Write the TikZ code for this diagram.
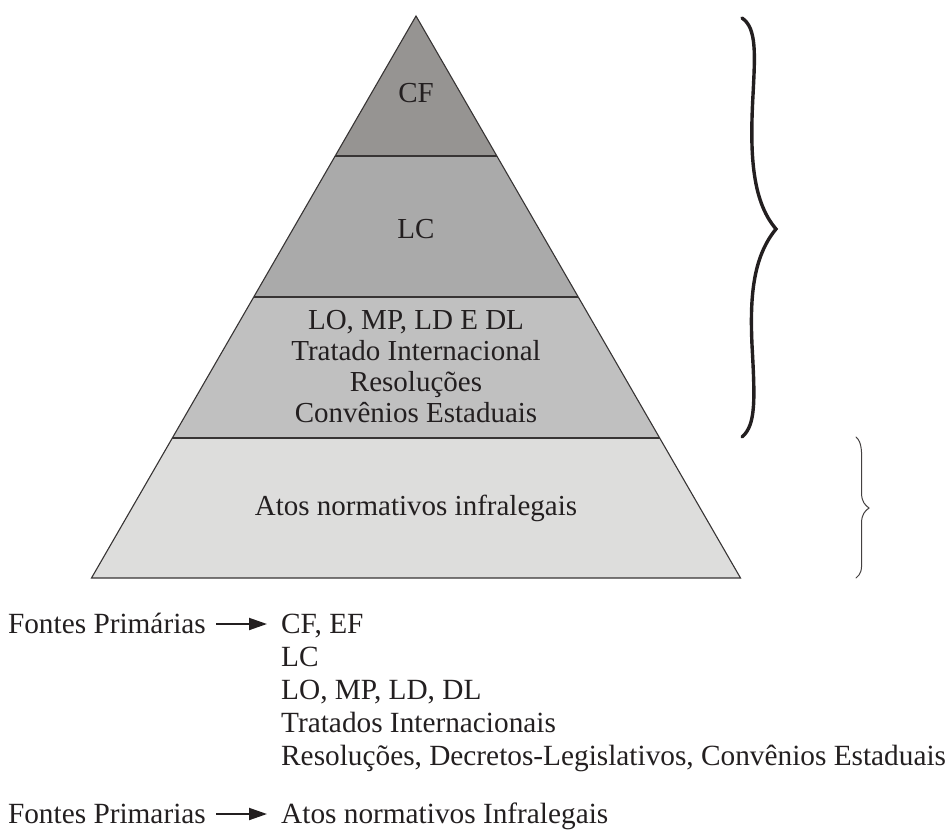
\documentclass[tikz,border=0pt]{standalone}
\usepackage{fontspec}
\setmainfont{Liberation Serif}
\usetikzlibrary{arrows.meta}
\definecolor{lay1}{RGB}{150,148,146}
\definecolor{lay2}{RGB}{170,170,170}
\definecolor{lay3}{RGB}{192,192,192}
\definecolor{lay4}{RGB}{221,221,220}
\definecolor{ink}{RGB}{35,31,32}
\definecolor{edge}{RGB}{55,52,52}
\tikzset{
  lbl/.style={anchor=base, inner sep=0pt, text=ink, font=\fontsize{29}{33}\selectfont},
  lblw/.style={anchor=base west, inner sep=0pt, text=ink, font=\fontsize{29.3}{33}\selectfont},
  lble/.style={anchor=base east, inner sep=0pt, text=ink, font=\fontsize{29.3}{33}\selectfont},
  divider/.style={draw=edge, line width=1.8pt},
  outline/.style={draw=edge, line width=1.1pt, line join=miter},
  pointer/.style={draw=ink, line width=2pt, -{Triangle[length=18pt,width=12pt]}},
  bigbrace/.style={draw=ink, line width=3.4pt, line cap=round},
  smallbrace/.style={draw=ink!85, line width=1pt, line cap=round}
}
\begin{document}
\begin{tikzpicture}[x=1pt,y=-1pt]
\useasboundingbox (0,0) rectangle (949,830);
% pyramid corners
\coordinate (apex) at (416,16);
\coordinate (l1) at (335.2,156);
\coordinate (r1) at (496.8,156);
\coordinate (l2) at (253.8,297);
\coordinate (r2) at (578.2,297);
\coordinate (l3) at (172.3,438);
\coordinate (r3) at (659.7,438);
\coordinate (bl) at (91.5,578);
\coordinate (br) at (740.5,578);
% layers
\fill[lay1] (apex) -- (r1) -- (l1) -- cycle;
\fill[lay2] (l1) -- (r1) -- (r2) -- (l2) -- cycle;
\fill[lay3] (l2) -- (r2) -- (r3) -- (l3) -- cycle;
\fill[lay4] (l3) -- (r3) -- (br) -- (bl) -- cycle;
\draw[divider] (l1) -- (r1);
\draw[divider] (l2) -- (r2);
\draw[divider] (l3) -- (r3);
\draw[outline] (apex) -- (br) -- (bl) -- cycle;
% pyramid labels
\node[lbl] (cf) at (416,102) {CF};
\node[lbl] (lc) at (416,238) {LC};
\node[lbl] (t3a) at (416,329) {LO, MP, LD E DL};
\node[lbl] (t3b) at (416,360) {Tratado Internacional};
\node[lbl] (t3c) at (416,391) {Resoluções};
\node[lbl] (t3d) at (416,422) {Convênios Estaduais};
\node[lbl] (atos) at (416,515) {Atos normativos infralegais};
% braces
\draw[bigbrace] (742,18) .. controls (757,28) and (755,55) .. (753,95)
  .. controls (750,150) and (751,200) .. (776,229)
  .. controls (752,258) and (750,300) .. (752,345)
  .. controls (755,400) and (756,425) .. (742,437);
\draw[smallbrace] (856,437) .. controls (862,442) and (862,452) .. (861.5,470)
  -- (861.5,494) .. controls (862,502) and (865,505) .. (869,508)
  .. controls (865,511) and (862,514) .. (861.5,522)
  -- (861.5,560) .. controls (862,570) and (861,574) .. (856,578);
% lists
\node[lble] (fp1) at (206,633) {Fontes Primárias};
\node[lblw] (la) at (281,633) {CF, EF};
\node[lblw] (lb) at (281,666) {LC};
\node[lblw] (lcc) at (281,699) {LO, MP, LD, DL};
\node[lblw] (ld) at (281,732) {Tratados Internacionais};
\node[lblw] (le) at (281,765) {Resoluções, Decretos-Legislativos, Convênios Estaduais};
\node[lble] (fp2) at (206,823) {Fontes Primarias};
\node[lblw] (lf) at (281,823) {Atos normativos Infralegais};
\coordinate (a1s) at (216,624);
\coordinate (a1e) at (267,624);
\coordinate (a2s) at (216,814);
\coordinate (a2e) at (267,814);
\draw[pointer] (a1s) -- (a1e);
\draw[pointer] (a2s) -- (a2e);
\end{tikzpicture}
\end{document}
